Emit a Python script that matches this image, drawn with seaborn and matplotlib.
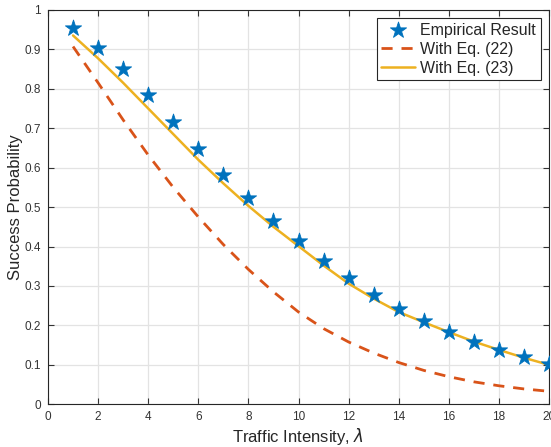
import numpy as np
import pandas as pd
import seaborn as sns
import matplotlib.pyplot as plt

# data
traffic = list(range(1, 21))
empirical = [0.955, 0.904, 0.851, 0.783, 0.716, 0.646, 0.582, 0.524, 0.465, 0.414,
             0.363, 0.319, 0.276, 0.241, 0.212, 0.184, 0.159, 0.138, 0.119, 0.102]
eq22 = [0.907, 0.815, 0.721, 0.632, 0.550, 0.475, 0.405, 0.342, 0.285, 0.234,
        0.192, 0.158, 0.130, 0.106, 0.086, 0.070, 0.057, 0.047, 0.039, 0.033]
eq23 = [0.935, 0.877, 0.815, 0.750, 0.685, 0.620, 0.560, 0.503, 0.450, 0.401,
        0.352, 0.306, 0.268, 0.234, 0.208, 0.183, 0.159, 0.138, 0.118, 0.100]

df = pd.DataFrame({"lam": traffic, "emp": empirical, "eq22": eq22, "eq23": eq23})

sns.set_style("ticks")
plt.rcParams['font.family'] = ['Liberation Sans', 'DejaVu Sans']
plt.rcParams['mathtext.fontset'] = 'dejavusans'

fig = plt.figure(figsize=(5.51, 4.47), dpi=100)
ax = fig.add_axes([0.0871, 0.0955, 0.9093, 0.8825])

sns.lineplot(data=df, x="lam", y="eq22", ax=ax, color="#D95319", lw=2,
             linestyle=(0, (4, 3.2)), label="With Eq. (22)", zorder=3)
sns.lineplot(data=df, x="lam", y="eq23", ax=ax, color="#EDB120", lw=1.8,
             label="With Eq. (23)", zorder=3)
sns.scatterplot(data=df, x="lam", y="emp", ax=ax, marker="*", s=150,
                color="#0072BD", edgecolor="#0072BD", linewidth=0.6,
                label="Empirical Result", zorder=4)

ax.set_xlim(0, 20)
ax.set_ylim(0, 1)
ax.set_xticks(np.arange(0, 21, 2))
ax.set_yticks(np.arange(0, 1.01, 0.1))
ax.set_yticklabels(["0"] + [f"{v:.1f}" for v in np.arange(0.1, 0.95, 0.1)] + ["1"])
ax.grid(True, color="#e3e3e3", lw=0.9)
ax.set_axisbelow(True)
for s in ax.spines.values():
    s.set_visible(True)
    s.set_color("#262626")
    s.set_linewidth(0.8)
ax.tick_params(direction="in", top=True, right=True, length=4, width=0.8,
               labelsize=8.5, colors="#333333", pad=5)
ax.set_xlabel(r"Traffic Intensity, $\lambda$", fontsize=12, color="#262626", labelpad=2)
ax.set_ylabel("Success Probability", fontsize=12, color="#262626", labelpad=1)

h, l = ax.get_legend_handles_labels()
order = [2, 0, 1]
leg = ax.legend([h[i] for i in order], [l[i] for i in order], loc="upper right",
                fontsize=11.5, frameon=True, fancybox=False, framealpha=1,
                edgecolor="#262626", borderaxespad=0.5, handlelength=2.1,
                handletextpad=0.35, borderpad=0.3, labelspacing=0.25)
leg.get_frame().set_linewidth(0.8)

fig.savefig("out.png", dpi=100)
